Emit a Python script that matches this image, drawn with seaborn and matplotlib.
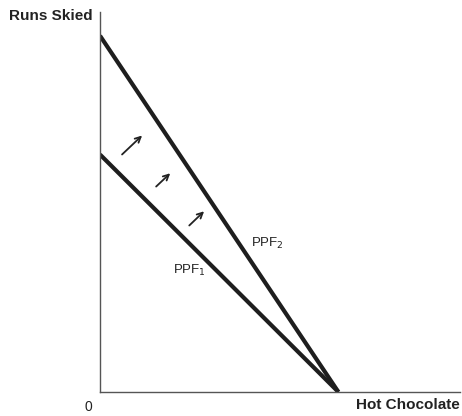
import pandas as pd
import matplotlib.pyplot as plt
import seaborn as sns

# PPF end points (hot chocolate, runs skied)
hot_chocolate = [0, 10]
ppf1_runs = [10, 0]
ppf2_runs = [15, 0]

# shift arrows: start and end points
arrow_starts = [(0.84, 9.92), (2.27, 8.57), (3.66, 6.93)]
arrow_ends = [(1.85, 10.88), (3.03, 9.29), (4.45, 7.69)]

sns.set_style("white")
plt.rcParams['font.family'] = ['Liberation Sans Narrow', 'Liberation Sans', 'DejaVu Sans']

fig = plt.figure(figsize=(4.62, 4.16), dpi=100)
ax = fig.add_axes([100 / 462, 24 / 416, 360 / 462, 380 / 416])

df = pd.DataFrame({
    'Hot Chocolate': hot_chocolate * 2,
    'Runs Skied': ppf1_runs + ppf2_runs,
    'curve': ['PPF1'] * 2 + ['PPF2'] * 2,
})
sns.lineplot(data=df, x='Hot Chocolate', y='Runs Skied', units='curve', estimator=None,
             color='#1e1e1e', linewidth=3.0, ax=ax, legend=False, solid_capstyle='butt')

for s, e in zip(arrow_starts, arrow_ends):
    ax.annotate('', xy=e, xytext=s,
                arrowprops=dict(arrowstyle='->', color='#222222', lw=1.3,
                                mutation_scale=10))

ax.text(6.34, 6.26, 'PPF$_2$', fontsize=9.5, ha='left', va='center', color='#222222')
ax.text(3.07, 5.13, 'PPF$_1$', fontsize=9.5, ha='left', va='center', color='#222222')

ax.set_xlim(0, 15.1)
ax.set_ylim(0, 16.0)
ax.set_xticks([])
ax.set_yticks([])
ax.set_xlabel('')
ax.set_ylabel('')
for side in ['top', 'right']:
    ax.spines[side].set_visible(False)
for side in ['left', 'bottom']:
    ax.spines[side].set_color('#555555')
    ax.spines[side].set_linewidth(1.0)

ax.text(-0.5, -0.63, '0', fontsize=10, ha='center', va='center', color='#222222', clip_on=False)
ax.text(15.1, -0.55, 'Hot Chocolate', fontsize=11, fontweight='bold', ha='right', va='center',
        color='#222222', clip_on=False)
ax.text(-0.29, 15.84, 'Runs Skied', fontsize=11, fontweight='bold', ha='right', va='center',
        color='#222222', clip_on=False)

fig.savefig('out.png', dpi=100)
